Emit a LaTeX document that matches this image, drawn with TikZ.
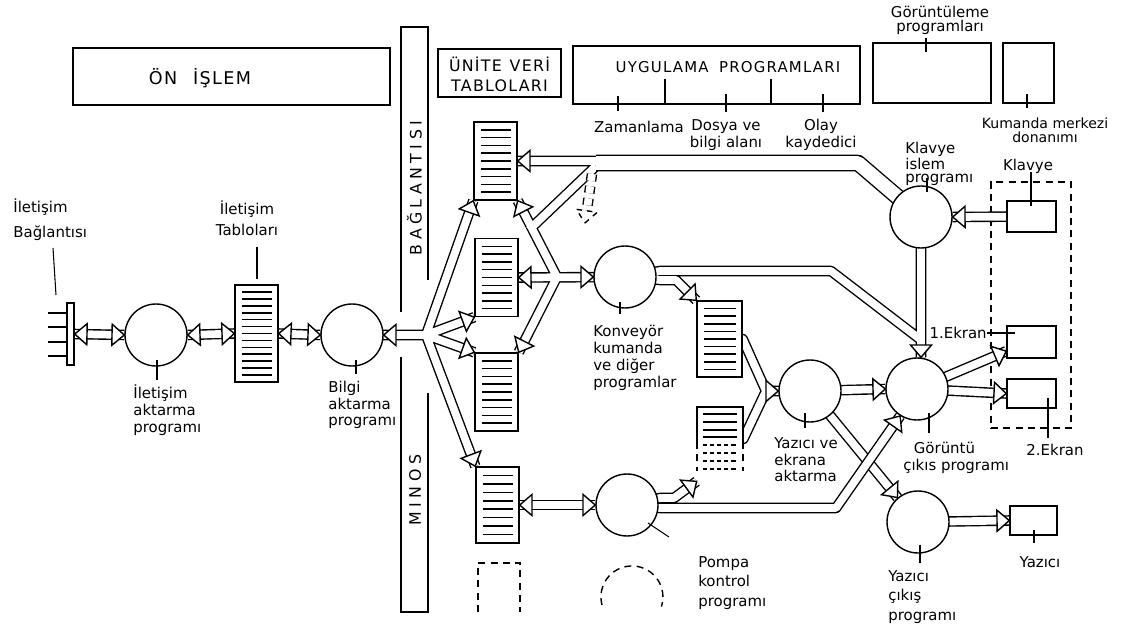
\documentclass[tikz,border=0pt]{standalone}
\usepackage{fontspec}
\setmainfont{DejaVu Sans}
\newfontfamily\spacedfont[LetterSpace=28]{DejaVu Sans}
\newfontfamily\capsfont[LetterSpace=8]{DejaVu Sans}
\usetikzlibrary{calc,fit,backgrounds,decorations.markings}

\begin{document}
\begin{tikzpicture}[
    x=0.02cm, y=-0.02cm,
    every node/.style={font=\fontsize{8.5}{9.6}\selectfont},
    circ/.style={circle,draw,line width=0.8pt,fill=white,minimum size=1.24cm,inner sep=0pt},
    box/.style={draw,line width=0.8pt,fill=white,inner sep=0pt},
    datatable/.style={draw,line width=0.8pt,fill=white,minimum width=0.86cm,minimum height=1.56cm,inner sep=0pt,
      path picture={\foreach \k in {1,...,#1}
        \draw[line width=0.9pt]
          ($(path picture bounding box.north west)!{\k/(#1+1)}!(path picture bounding box.south west)+(0.13cm,0)$) --
          ($(path picture bounding box.north east)!{\k/(#1+1)}!(path picture bounding box.south east)-(0.13cm,0)$);}},
    pipe/.style={double=white,double distance=4.4pt,line width=0.8pt,line join=round},
    widepipe/.style={double=white,double distance=7.8pt,line width=0.8pt,line join=round},
    headat/.style={postaction={decorate,decoration={markings,mark=at position 1 with
      {\draw[line width=0.8pt,fill=white,line join=miter,#1] (0,0) -- (-7pt,6pt) -- (-7pt,-6pt) -- cycle;}}}},
    headat/.default=solid,
    dashdraw/.style={line width=0.8pt,dash pattern=on 4pt off 3pt},
    lead/.style={line width=0.6pt},
    lbl/.style={inner sep=0pt,align=left,anchor=west}
  ]
  \useasboundingbox (0,0) rectangle (1125,631);
  %% Top boxes
  \node[box,fit={(73,48)(390,105)}] (onislem) {};
  \node[font=\capsfont\fontsize{10}{12}\selectfont] (tonislem) at (200,78) {ÖN\hspace{0.9em}İŞLEM};
  \node[box,fit={(438,49)(561,97)}] (unite) {};
  \node[align=center,font=\capsfont\fontsize{9}{11.5}\selectfont] (tunite) at (499.5,74) {ÜNİTE\hspace{0.5em}VERİ\\TABLOLARI};
  \node[box,fit={(573,46)(860,104)}] (uyg) {};
  \node[font=\capsfont\fontsize{8.5}{10}\selectfont] (tuyg) at (728,67) {UYGULAMA\hspace{0.7em}PROGRAMLARI};
  \node[box,fit={(873,43)(991,103)}] (gor) {};
  \node[box,fit={(1003,43)(1054,103)}] (kum) {};
  %% Programs
  \node[circ] (ia) at (156,335) {};
  \node[circ] (ba) at (352,335) {};
  \node[circ] (kv) at (625,277) {};
  \node[circ] (ki) at (921,217) {};
  \node[circ] (ye) at (810,391) {};
  \node[circ] (gc) at (917,389) {};
  \node[circ] (pk) at (627,505) {};
  \node[circ] (yc) at (918,522) {};
  %% Tables
  \node[datatable=13,minimum height=1.94cm] (tab) at (256.5,333.5) {};
  \node[datatable=9] (s1) at (495.5,161) {};
  \node[datatable=9] (s2) at (496.5,277.5) {};
  \node[datatable=9] (s3) at (496.5,392) {};
  \node[datatable=8,minimum height=1.52cm] (s4) at (497.5,505) {};
  \node[datatable=9,minimum width=0.9cm,minimum height=1.52cm] (r1) at (719.5,339) {};
  \node[fill=white,minimum width=0.92cm,minimum height=1.28cm,inner sep=0pt] (r2) at (720,439) {};
  \draw[line width=0.8pt] (697,442) |- (743,407) -- (743,442);
  \draw[dashdraw] (697,442) -- (697,471) (743,442) -- (743,471);
  \foreach \y in {414,422,430,437} \draw[line width=0.9pt] (703,\y) -- (737,\y);
  \foreach \y in {445,453,461,469} \draw[line width=0.9pt,dash pattern=on 2.5pt off 1.5pt] (703,\y) -- (737,\y);
  %% Spare slots
  \draw[dashdraw] (478,612) |- (520,563) -- (520,612);
  \draw[dashdraw] (602,605) arc[start angle=165,end angle=378,radius=31];
  %% Devices
  \node[box,fit={(67,303)(74,365)}] (conn) {};
  \foreach \y in {313,327,342,356} \draw[line width=0.8pt] (48,\y) -- (67,\y);
  \node[box,fit={(1007,201)(1056,232)}] (kl) {};
  \node[box,fit={(1007,326)(1056,358)}] (e1) {};
  \node[box,fit={(1007,379)(1056,408)}] (e2) {};
  \node[box,fit={(1010,506)(1057,535)}] (yz) {};
  %% Junctions
  \coordinate (jb) at (426,335);
  \coordinate (jk) at (557,277);
  \coordinate (jf) at (600,161);
  \coordinate (jy) at (766,391);
  \coordinate (r2in) at ([yshift=-0.2cm]r2.south west);

  \begin{scope}[on background layer]
    %% MINOS bar
    \draw[line width=0.8pt] (401,312) -- (401,27) -- (428,27) -- (428,280);
    \draw[line width=0.8pt] (401,357) -- (401,612) -- (428,612) -- (428,393);
    \node[draw,dashdraw,fit={(991,182)(1071,428)},inner sep=0pt] (panel) {};
    %% Pipes
    \draw[pipe] (conn.east) -- (ia.west);
    \draw[pipe] (ia.east) -- (tab.west);
    \draw[pipe] (tab.east) -- (ba.west);
    \draw[pipe] (s4.east) -- (pk.west);
    \draw[pipe] (kl.center) -- (ki.east);
    \draw[pipe] (yc.center) -- (yz.west);
    \draw[pipe] (ye.center) -- (gc.west);
    \draw[pipe] (ba.center) -- (jb) (s1.south west) -- (jb) -- (s4.north west)
                (s2.south west) -- (jb) -- (s3.north west);
    \draw[pipe] (s1.south east) -- (jk) -- (s3.north east) (s2.east) -- (kv.center)
                (jf) -- (s1.east) (596,166) -- (529,230);
    \draw[widepipe] (ki.center) -- (858,163) -- (596,163);
    \draw[pipe] (kv.center) -- (660,271) -- (831,271) -- (921,340)
                (kv.center) -- (660,280) -- (676,280) -- (r1.north west)
                (ki.center) -- (ki.center |- gc.north);
    \draw[pipe] (r1.center) -- (r1.east) -- (jy) -- (ye.center) (r2.center) -- (r2.east) -- (jy);
    \draw[pipe] (ye.center) -- (yc.130);
    \draw[pipe] (pk.center) -- (660,508) -- (836,508) -- (gc.238)
                (pk.center) -- (660,498) -- (674,498) -- (r2in);
    \draw[pipe] (gc.center) -- (e1.200) (gc.center) -- (e2.west);
    \draw[pipe,dash pattern=on 4pt off 3pt] (592,174) -- (586,216);
  \end{scope}

  %% Arrow heads
  \path[headat] (ia.west) -- (conn.east);
  \path[headat] (conn.east) -- (ia.west);
  \path[headat] (tab.west) -- (ia.east);
  \path[headat] (ia.east) -- (tab.west);
  \path[headat] (ba.west) -- (tab.east);
  \path[headat] (tab.east) -- (ba.west);
  \foreach \tg in {ba.east,s1.south west,s2.south west,s3.north west,s4.north west}
    \path[headat] (jb) -- (\tg);
  \foreach \tg in {s1.south east,s2.east,s3.north east,kv.west}
    \path[headat] (jk) -- (\tg);
  \path[headat] (jf) -- (s1.east);
  \path[headat] (676,280) -- (r1.north west);
  \path[headat] (ki.center) -- (ki.center |- gc.north);
  \path[headat] (kl.center) -- (ki.east);
  \path[headat] (jy) -- (ye.west);
  \path[headat] (ye.center) -- (gc.west);
  \path[headat] (ye.center) -- (yc.130);
  \path[headat] (836,508) -- (gc.238);
  \path[headat] (674,498) -- (r2in);
  \path[headat] (pk.west) -- (s4.east);
  \path[headat] (s4.east) -- (pk.west);
  \path[headat] (gc.center) -- (e1.200);
  \path[headat] (gc.center) -- (e2.west);
  \path[headat] (yc.center) -- (yz.west);
  \path[headat=dashed] (592,174) -- (585,223);

  %% Leaders
  \draw[lead] (53,248) -- (56,295);
  \draw[lead] (257,247) -- (257,279);
  \draw[lead] (157,360) -- (157,380);
  \draw[lead] (356,360) -- (356,374);
  \draw[lead] (620,302) -- (620,314);
  \foreach \x/\a/\b in {618/96/111,665/79/104,726/94/112,771/79/104,823/94/112}
    \draw[lead] (\x,\a) -- (\x,\b);
  \draw[lead] (926,38) -- (926,52);
  \draw[lead] (1027,94) -- (1027,108);
  \draw[lead] (1031,172) -- (1031,206);
  \draw[lead] (927,178) -- (927,192);
  \draw[lead] (987,333) -- (1015,333);
  \draw[lead] (1048,398) -- (1048,438);
  \draw[lead] (929,413) -- (929,433);
  \draw[lead] (805,413) -- (805,428);
  \draw[lead] (920,545) -- (920,563);
  \draw[lead] (1034,530) -- (1034,543);
  \draw[lead] (648,523) -- (669,537);

  %% Labels
  \node[lbl,font=\fontsize{8.5}{14}\selectfont] (tconn) at (13,220) {İletişim\\Bağlantısı};
  \node[align=center,font=\fontsize{8.5}{12}\selectfont] (ttab) at (247,218) {İletişim\\Tabloları};
  \node[lbl] (tia) at (133,410) {İletişim\\aktarma\\programı};
  \node[lbl] (tba) at (328,405) {Bilgi\\aktarma\\programı};
  \node[lbl] (tkv) at (593,358) {Konveyör\\kumanda\\ve diğer\\programlar};
  \node[lbl,font=\fontsize{8.5}{11}\selectfont] (tpk) at (698,583) {Pompa\\kontrol\\programı};
  \node[lbl,font=\fontsize{8.5}{9.4}\selectfont] (tye) at (774,460) {Yazıcı ve\\ekrana\\aktarma};
  \node[lbl,font=\fontsize{8.5}{11.3}\selectfont] (tyc) at (888,597) {Yazıcı\\çıkış\\programı};
  \node[lbl] (tgc) at (903,458) {\hspace{6pt}Görüntü\\çıkıs programı};
  \node (tyz) at (1040,562) {Yazıcı};
  \node (te2) at (1055,450) {2.Ekran};
  \node[anchor=east,inner sep=0pt] (te1) at (987,333) {1.Ekran};
  \node (tklavye) at (1028,166) {Klavye};
  \node[lbl,font=\fontsize{8.5}{7.6}\selectfont] (tki) at (905,164) {Klavye\\islem\\programı};
  \node[align=center,font=\fontsize{8}{8}\selectfont] (tkum) at (1045,130) {Kumanda merkezi\\donanımı};
  \node[align=center,font=\fontsize{8.5}{8}\selectfont] (tgor) at (940,20) {Görüntüleme\\programları};
  \node (tzam) at (639,127) {Zamanlama};
  \node[align=center] (tdos) at (726,135) {Dosya ve\\bilgi alanı};
  \node[align=center] (tolay) at (821,135) {Olay\\kaydedici};
  \node[rotate=90,font=\spacedfont\fontsize{9}{10}\selectfont] (tbag) at (414.5,188) {BAĞLANTISI};
  \node[rotate=90,font=\spacedfont\fontsize{9}{10}\selectfont] (tmin) at (415,490) {MINOS};
\end{tikzpicture}
\end{document}
